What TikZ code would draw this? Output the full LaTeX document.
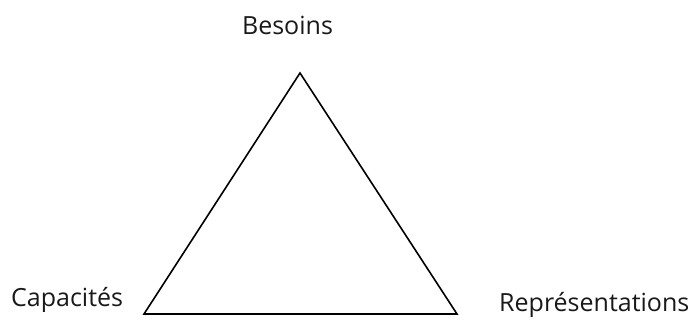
\documentclass[tikz,border=0pt]{standalone}
\usepackage{fontspec}
\setmainfont{Open Sans}
\begin{document}
\begin{tikzpicture}[x=1pt,y=1pt,
  lab/.style={inner sep=0pt,font=\fontsize{25}{29}\selectfont,text=black!90},
  edge/.style={draw=black,line width=1.6pt,line join=miter}]
\useasboundingbox (0,0) rectangle (691,326);
\coordinate (top) at (300,253);
\coordinate (bl) at (144,12);
\coordinate (br) at (457,12);
\draw[edge] (top) -- (bl) -- (br) -- cycle;
\node[lab,anchor=base] (besoins) at (287.5,291) {Besoins};
\node[lab,anchor=base west] (capa) at (11,19) {Capacités};
\node[lab,anchor=base west] (repr) at (499,14) {Représentations};
\end{tikzpicture}
\end{document}
